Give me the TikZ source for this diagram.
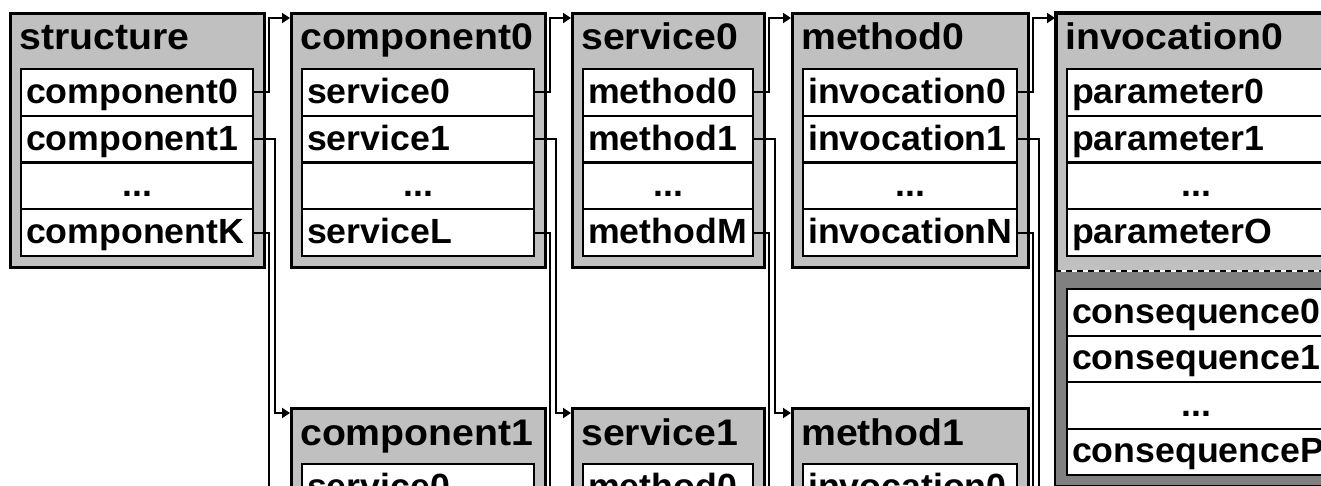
\documentclass[tikz,border=0pt]{standalone}
\usepackage{fontspec}
\setmainfont{Liberation Sans}
\usepackage{graphicx}
\usetikzlibrary{arrows.meta,calc}
\definecolor{grisclair}{RGB}{192,192,192}
\definecolor{grisfonce}{RGB}{128,128,128}
\newcommand{\rowfont}{\fontsize{35}{38}\selectfont\bfseries}
\newcommand{\titlefont}{\fontsize{37}{40}\selectfont\bfseries}
\newcommand{\wide}[1]{\scalebox{1.02}[1]{#1}}
\newcommand{\widetitle}[1]{\scalebox{1.06}[1]{#1}}
\newcommand{\etcdots}{...}

\begin{document}
\begin{tikzpicture}[x=1pt,y=-1pt,
  outerbox/.style={draw, line width=2.6pt, fill=grisclair, anchor=north west, inner sep=0pt},
  itembox/.style={draw, line width=2.2pt, fill=white, anchor=north west, inner xsep=5pt, inner ysep=0pt,
    minimum height=46.75pt, text height=24pt, text depth=2pt, font=\rowfont},
  titletext/.style={anchor=base west, inner sep=0pt, font=\titlefont},
  wire/.style={line width=2pt},
  link/.style={wire, -{Triangle[length=8pt,width=10pt]}}]
\path[use as bounding box, clip] (0,0) rectangle (1321,486);
\coordinate (bas) at (0,500);

\foreach \n/\x/\y/\w/\ttl/\elem/\fin in {
  s/9/12/254/structure/component/K,
  c0/290/12/254/component0/service/L,
  v0/571/12/192/service0/method/M,
  m0/791/12/236/method0/invocation/N,
  c1/290/407/254/component1/service/L,
  v1/571/407/192/service1/method/M,
  m1/791/407/236/method1/invocation/N
} {
  \pgfmathsetmacro{\tw}{\w-32}
  \node[outerbox, minimum width=\w pt, minimum height=254pt] (\n) at (\x,\y) {};
  \node[titletext] (\n-title) at (\x+10,\y+38) {\widetitle{\ttl}};
  \foreach \k/\al/\lbl in {0/left/\elem0, 1/left/\elem1, 2/center/\etcdots, 3/left/\elem\fin} {
    \node[itembox, text width=\tw pt, align=\al] (\n-r\k) at (\x+11,{\y+56+\k*46.75}) {\wide{\lbl}};
  }
}

\node[outerbox, minimum width=280pt, minimum height=472pt] (i0) at (1055,12) {};
\coordinate (i0-split) at (1055,271);
\fill[grisfonce] (i0-split) rectangle (i0.south east);
\draw[line width=2.6pt] (i0.north west) rectangle (i0.south east);
\draw[white, line width=2.5pt] (i0-split) -- (i0-split -| i0.east);
\draw[dash pattern=on 6pt off 5pt, line width=2.5pt] (i0-split) -- (i0-split -| i0.east);
\node[titletext] (i0-title) at (1065,50) {\widetitle{invocation0}};
\foreach \k/\al/\lbl in {0/left/parameter0, 1/left/parameter1, 2/center/\etcdots, 3/left/parameterO} {
  \node[itembox, text width=248pt, align=\al] (i0-p\k) at (1066,{68+\k*46.75}) {\wide{\lbl}};
}
\foreach \k/\al/\lbl in {0/left/consequence0, 1/left/consequence1, 2/center/\etcdots, 3/left/consequenceP} {
  \node[itembox, minimum height=46.5pt, text width=248pt, align=\al] (i0-q\k) at (1066,{288+\k*46.5}) {\wide{\lbl}};
}

\foreach \a/\b in {s/c0, c0/v0, v0/m0, m0/i0} {
  \draw[link] (\a-r0.east) -- ++(15pt,0) |- ([yshift=-6pt]\b.north west);
}
\foreach \a/\b in {s/c1, c0/v1, v0/m1} {
  \draw[link] (\a-r1.east) -- ++(21pt,0) |- ([yshift=-6pt]\b.north west);
}
\foreach \a in {s, c0, v0, m0} {
  \draw[wire] (\a-r3.east) -- ++(15pt,0) coordinate (\a-k) -- (\a-k |- bas);
}
\draw[wire] (m0-r1.east) -- ++(21pt,0) coordinate (m0-j) -- (m0-j |- bas);
\end{tikzpicture}
\end{document}
